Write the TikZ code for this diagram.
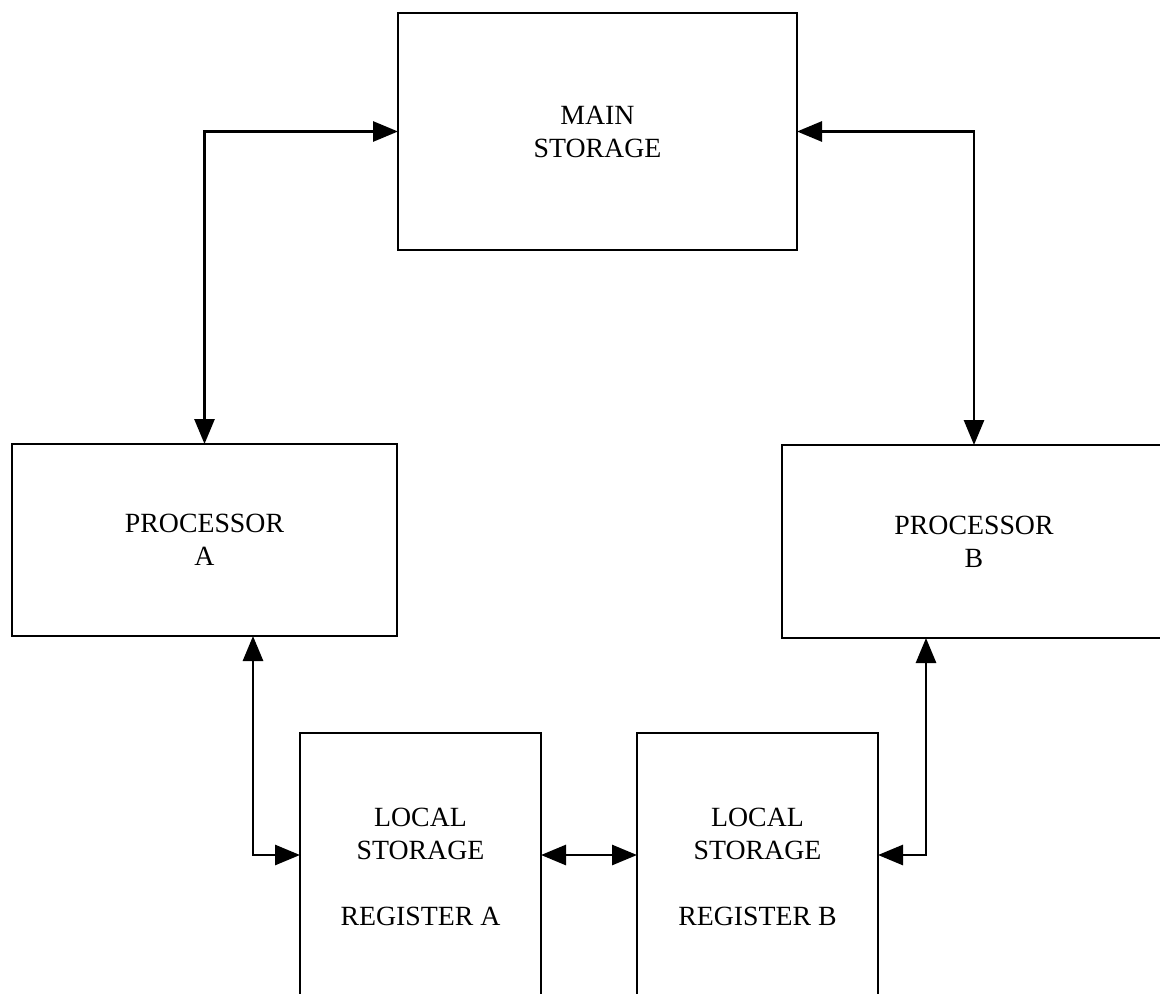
\documentclass[tikz,border=0pt]{standalone}
\usepackage{fontspec}
\setmainfont{Liberation Serif}
\usetikzlibrary{arrows.meta,calc}
\tikzset{
  unit/.style={draw, line width=1.4pt, align=center, inner sep=0pt, outer sep=0pt,
               font=\fontsize{13.9pt}{16.5pt}\selectfont},
  regunit/.style={unit, anchor=north, minimum width=120.5pt,
                  inner ysep=37.5pt, text depth=60pt},
  flow/.style={{Triangle[length=12.5pt,width=10pt]}-{Triangle[length=12.5pt,width=10pt]},
               line width=1.4pt},
}

\begin{document}
\begin{tikzpicture}[x=0.5pt, y=-0.5pt]
  \useasboundingbox (0,0) rectangle (1160,994);
  \clip (0,0) rectangle (1160,994);
  \node[unit, minimum width=199.5pt, minimum height=118.5pt] (main) at (597.5,131.5) {MAIN\\STORAGE};
  \node[unit, minimum width=192.5pt, minimum height=96pt] (procA) at (204.5,540) {PROCESSOR\\A};
  \node[unit, minimum width=192pt, minimum height=96.5pt] (procB) at (974,541.5) {PROCESSOR\\B};
  \node[regunit] (locA) at (420.5,733) {LOCAL\\STORAGE\\[16.5pt]REGISTER A};
  \node[regunit] (locB) at (757.5,733) {LOCAL\\STORAGE\\[16.5pt]REGISTER B};
  \draw[flow] (procA.north) |- (main.west);
  \draw[flow] (main.east) -| (procB.north);
  \draw[flow] ($(procA.south)+(48.5,0)$) |- ($(locA.north west)+(0,122)$);
  \draw[flow] ($(locA.north east)+(0,122)$) -- ($(locB.north west)+(0,122)$);
  \draw[flow] ($(procB.south)+(-48,0)$) |- ($(locB.north east)+(0,122)$);
\end{tikzpicture}
\end{document}
